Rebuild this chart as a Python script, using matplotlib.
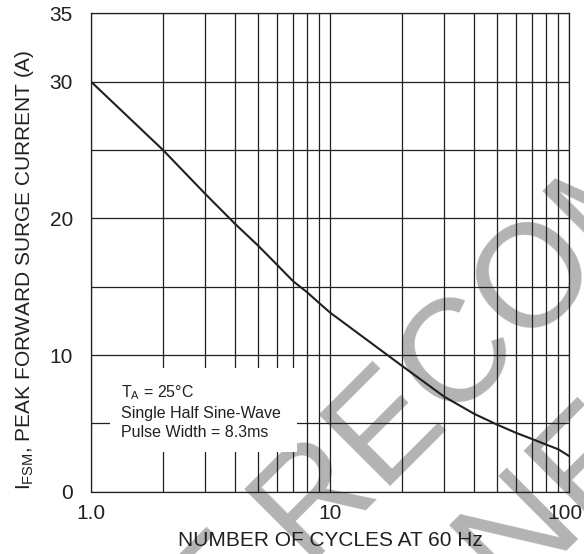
import numpy as np
import matplotlib
matplotlib.use("Agg")
import matplotlib.pyplot as plt
import matplotlib.transforms as mtransforms
from matplotlib.patches import Rectangle

plt.rcParams['font.family'] = ['Liberation Sans', 'DejaVu Sans']
plt.rcParams['mathtext.fontset'] = 'custom'
plt.rcParams['mathtext.rm'] = 'Liberation Sans'
plt.rcParams['mathtext.it'] = 'Liberation Sans'

# surge current vs number of cycles
cycles = [1, 2, 3, 4, 5, 6, 7, 8, 9, 10, 20, 30, 40, 50, 60, 70, 80, 90, 100]
current = [30, 25.0, 21.8, 19.6, 18.0, 16.6, 15.4, 14.6, 13.8, 13.1,
           9.2, 6.95, 5.7, 4.9, 4.3, 3.85, 3.45, 3.1, 2.6]

x_major = [1, 10, 100]
x_major_labels = ['1.0', '10', '100']
y_ticks = [0, 5, 10, 15, 20, 25, 30, 35]
y_tick_labels = ['0', '', '10', '', '20', '', '30', '35']

W, H = 584, 554
fig = plt.figure(figsize=(W / 100, H / 100), dpi=100)

def fx(px):
    return px / W

def fy(py):
    return 1 - py / H

# watermark, sits under the grid
wm = '#b3b3b3'
fig.text(fx(574), fy(248), 'NOT RECOMMENDED', color=wm, fontsize=105,
         rotation=45, rotation_mode='anchor', ha='center', va='center', zorder=-1)
fig.text(fx(695), fy(369), 'FOR NEW DESIGN', color=wm, fontsize=105,
         rotation=45, rotation_mode='anchor', ha='center', va='center', zorder=-1)

ax = fig.add_axes([fx(91), fy(491.7), fx(478.3), 478.4 / H])
ax.set_facecolor('none')

ax.set_xscale('log')
ax.set_xlim(1, 100)
ax.set_ylim(0, 35)

ax.set_xticks(x_major)
ax.set_xticklabels(x_major_labels)
ax.set_xticks([2, 3, 4, 5, 6, 7, 8, 9, 20, 30, 40, 50, 60, 70, 80, 90], minor=True)
ax.xaxis.set_minor_formatter(plt.NullFormatter())
ax.set_yticks(y_ticks)
ax.set_yticklabels(y_tick_labels)

gc = '#231f20'
ax.grid(True, which='both', color=gc, lw=0.9)
ax.set_axisbelow(True)
for s in ax.spines.values():
    s.set_color(gc)
    s.set_linewidth(0.9)
ax.tick_params(axis='both', which='both', length=0, labelsize=15, colors=gc)
ax.tick_params(axis='x', pad=9)
ax.tick_params(axis='y', pad=13)

# keep the "100" label inside the figure
lab = ax.get_xticklabels()[-1]
lab.set_transform(lab.get_transform() +
                  mtransforms.ScaledTranslation(-4 / 100, 0, fig.dpi_scale_trans))

ax.plot(cycles, current, color=gc, lw=1.5, zorder=4)

# condition box
ax.add_patch(Rectangle((0.040, 0.083), 0.391, 0.176, transform=ax.transAxes,
                       facecolor='white', edgecolor='none', zorder=3))
ax.text(0.063, 0.207, r'T$_{\mathrm{A}}$ = 25°C', transform=ax.transAxes,
        fontsize=11.5, va='center', zorder=5, color=gc)
ax.text(0.063, 0.163, 'Single Half Sine-Wave', transform=ax.transAxes,
        fontsize=11.5, va='center', zorder=5, color=gc)
ax.text(0.063, 0.123, 'Pulse Width = 8.3ms', transform=ax.transAxes,
        fontsize=11.5, va='center', zorder=5, color=gc)

fig.text(fx(330), fy(540), 'NUMBER OF CYCLES AT 60 Hz', fontsize=15,
         ha='center', va='center', color=gc)
fig.text(fx(25), fy(270), r'I$_{\mathrm{FSM}}$, PEAK FORWARD SURGE CURRENT (A)',
         fontsize=15, rotation=90, ha='center', va='center', color=gc)

fig.savefig('out.png', dpi=100)
